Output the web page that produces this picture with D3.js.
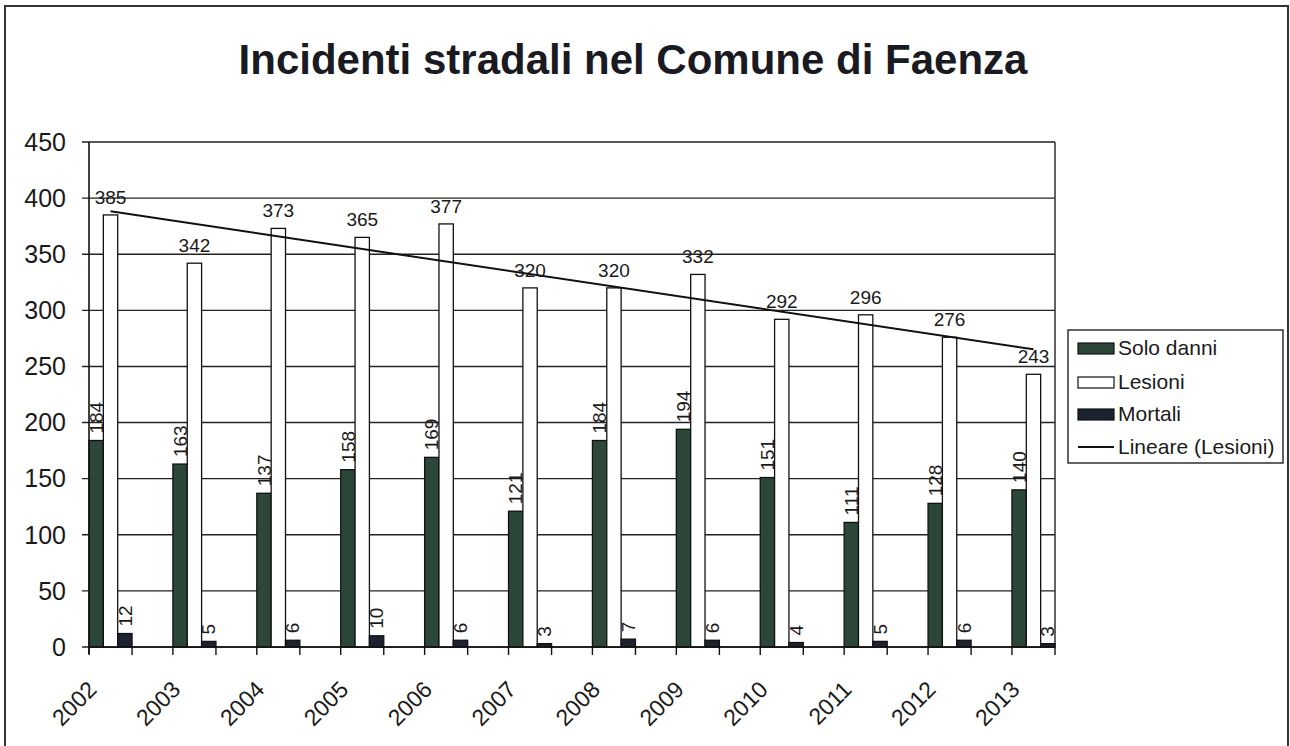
<!DOCTYPE html>
<html>
<head>
<meta charset="utf-8">
<script src="https://cdn.jsdelivr.net/npm/d3@7"></script>
<style>
  html, body { margin: 0; padding: 0; background: #fff; }
  svg { display: block; font-family: "Liberation Sans", Arial, sans-serif; }
</style>
</head>
<body>
<svg id="chart" width="1290" height="746"></svg>
<script>
const title = "Incidenti stradali nel Comune di Faenza";
const years = ["2002","2003","2004","2005","2006","2007","2008","2009","2010","2011","2012","2013"];
const soloDanni = [184,163,137,158,169,121,184,194,151,111,128,140];
const lesioni   = [385,342,373,365,377,320,320,332,292,296,276,243];
const mortali   = [12,5,6,10,6,3,7,6,4,5,6,3];
const yTicks = [0,50,100,150,200,250,300,350,400,450];
const seriesNames = ["Solo danni","Lesioni","Mortali"];
const trendName = "Lineare (Lesioni)";
const colors = { "Solo danni": "#2c4739", "Lesioni": "#ffffff", "Mortali": "#1c2230" };

const svg = d3.select("#chart");
const plot = { left: 89, right: 1055, top: 142, bottom: 647 };

// outer frame
svg.append("path")
  .attr("d", `M5,760 L5,6 L1288,6 L1288,760`)
  .attr("fill", "none").attr("stroke", "#333").attr("stroke-width", 2);

// title
svg.append("text")
  .attr("x", 633).attr("y", 74)
  .attr("text-anchor", "middle")
  .attr("font-size", 42).attr("font-weight", "bold").attr("fill", "#1a1a22")
  .text(title);

const x = d3.scaleBand().domain(years).range([plot.left, plot.right]).paddingInner(0.487).paddingOuter(0);
const xs = d3.scaleBand().domain(seriesNames).range([0, x.bandwidth()]).padding(0);
const y = d3.scaleLinear().domain([0, 450]).range([plot.bottom, plot.top]);

// gridlines
svg.append("g").selectAll("line").data(yTicks).join("line")
  .attr("x1", plot.left - 7).attr("x2", plot.right)
  .attr("y1", d => y(d)).attr("y2", d => y(d))
  .attr("stroke", "#222").attr("stroke-width", 1.4);

// right border of plot
svg.append("line").attr("x1", plot.right).attr("x2", plot.right)
  .attr("y1", plot.top).attr("y2", plot.bottom).attr("stroke", "#222").attr("stroke-width", 1.4);

// y labels
svg.append("g").selectAll("text").data(yTicks).join("text")
  .attr("x", 66).attr("y", d => y(d)).attr("dy", "0.35em")
  .attr("text-anchor", "end").attr("font-size", 25).attr("fill", "#1a1a1a")
  .text(d => d);

const series = [
  { name: "Solo danni", values: soloDanni },
  { name: "Lesioni", values: lesioni },
  { name: "Mortali", values: mortali }
];

// bars
series.forEach(s => {
  svg.append("g").selectAll("rect").data(s.values).join("rect")
    .attr("x", (d, i) => x(years[i]) + xs(s.name))
    .attr("y", d => y(d))
    .attr("width", xs.bandwidth())
    .attr("height", d => y(0) - y(d))
    .attr("fill", colors[s.name])
    .attr("stroke", "#111").attr("stroke-width", 1.3);
});

// y axis line
svg.append("line").attr("x1", plot.left).attr("x2", plot.left)
  .attr("y1", plot.top).attr("y2", plot.bottom + 7).attr("stroke", "#111").attr("stroke-width", 1.6);
// x axis line
svg.append("line").attr("x1", plot.left).attr("x2", plot.right)
  .attr("y1", plot.bottom).attr("y2", plot.bottom).attr("stroke", "#111").attr("stroke-width", 1.6);

// x ticks at group start and end
const tickXs = [];
years.forEach(yr => { tickXs.push(x(yr)); tickXs.push(x(yr) + x.bandwidth()); });
svg.append("g").selectAll("line").data(tickXs).join("line")
  .attr("x1", d => d).attr("x2", d => d)
  .attr("y1", plot.bottom).attr("y2", plot.bottom + 8)
  .attr("stroke", "#111").attr("stroke-width", 1.4);

// x labels
svg.append("g").selectAll("text").data(years).join("text")
  .attr("transform", d => `translate(${x(d) + 9},${plot.bottom + 44}) rotate(-45)`)
  .attr("text-anchor", "end").attr("font-size", 23).attr("fill", "#1a1a1a")
  .text(d => d);

// trend line (least squares on Lesioni)
const n = lesioni.length;
const idx = d3.range(1, n + 1);
const mx = d3.mean(idx), my = d3.mean(lesioni);
const slope = d3.sum(idx, (k, i) => (k - mx) * (lesioni[i] - my)) / d3.sum(idx, k => (k - mx) ** 2);
const icpt = my - slope * mx;
const lx = i => x(years[i]) + xs("Lesioni") + xs.bandwidth() / 2;
svg.append("line")
  .attr("x1", lx(0)).attr("y1", y(icpt + slope * 1))
  .attr("x2", lx(n - 1)).attr("y2", y(icpt + slope * n))
  .attr("stroke", "#111").attr("stroke-width", 2);

// data labels: Lesioni horizontal
svg.append("g").selectAll("text").data(lesioni).join("text")
  .attr("x", (d, i) => lx(i)).attr("y", d => y(d) - 11)
  .attr("text-anchor", "middle").attr("font-size", 19).attr("fill", "#1a1a1a")
  .text(d => d);

// rotated labels for Solo danni and Mortali
[series[0], series[2]].forEach(s => {
  svg.append("g").selectAll("text").data(s.values).join("text")
    .attr("transform", (d, i) => `translate(${x(years[i]) + xs(s.name) + xs.bandwidth() / 2},${y(d) - 7}) rotate(-90)`)
    .attr("dy", "0.35em")
    .attr("text-anchor", "start").attr("font-size", 19).attr("fill", "#1a1a1a")
    .text(d => d);
});

// legend
const lg = svg.append("g").attr("transform", "translate(1068,330)");
lg.append("rect").attr("width", 215).attr("height", 133)
  .attr("fill", "#fff").attr("stroke", "#222").attr("stroke-width", 1.4);
const rowY = [18, 52, 84, 117];
seriesNames.forEach((nm, i) => {
  lg.append("rect").attr("x", 10).attr("y", rowY[i] - 5).attr("width", 36).attr("height", 11)
    .attr("fill", colors[nm]).attr("stroke", "#111").attr("stroke-width", 1.2);
  lg.append("text").attr("x", 50).attr("y", rowY[i]).attr("dy", "0.35em")
    .attr("font-size", 21).attr("fill", "#1a1a1a").text(nm);
});
lg.append("line").attr("x1", 10).attr("x2", 46).attr("y1", rowY[3]).attr("y2", rowY[3])
  .attr("stroke", "#111").attr("stroke-width", 2);
lg.append("text").attr("x", 50).attr("y", rowY[3]).attr("dy", "0.35em")
  .attr("font-size", 21).attr("fill", "#1a1a1a").text(trendName);
</script>
</body>
</html>
